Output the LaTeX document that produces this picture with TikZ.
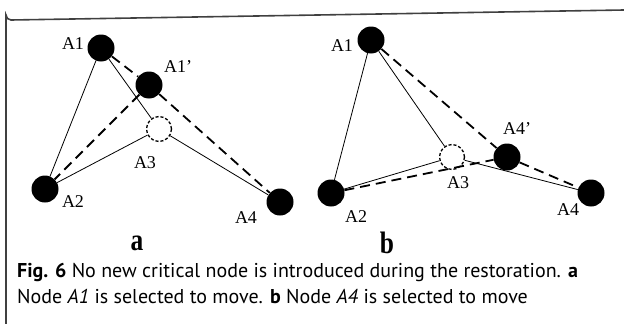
\documentclass[tikz,border=0pt]{standalone}
\usepackage{fontspec}
\setmainfont{Liberation Serif}
\newfontfamily\capfont{PT Sans}
\begin{document}
\begin{tikzpicture}[x=1pt,y=-1pt,
  dot/.style={circle,fill=black,minimum size=27pt,inner sep=0pt},
  ghost/.style={circle,draw=black,densely dashed,line width=1.3pt,minimum size=25pt,inner sep=0pt},
  lbl/.style={inner sep=0pt},
  edge/.style={line width=0.8pt},
  moved/.style={line width=1.8pt,dash pattern=on 10pt off 6pt},
  sub/.style={inner sep=0pt},
  captext/.style={anchor=base west,inner sep=0pt}]
\useasboundingbox (0,0) rectangle (624,324);
% frame
\draw[line width=1.6pt,black!75] (6,324) -- (6,15) arc[start angle=180,end angle=90,radius=5] -- (624,10);

\newcommand\lbltext[1]{{\fontsize{18}{18}\selectfont #1}}
\newcommand\subtext[1]{\scalebox{0.82}[1]{\fontsize{31}{31}\selectfont\bfseries #1}}
\newcommand\captext[1]{\scalebox{1.075}{\capfont\fontsize{18.6}{20}\selectfont #1}}

% panel a
\node[dot] (a1) at (101,48) {};
\node[dot] (a1p) at (149,85) {};
\node[ghost] (a3) at (159,129) {};
\node[dot] (a2) at (45,189) {};
\node[dot] (a4) at (280,202) {};
\draw[edge] (a1) -- (a2);
\draw[edge] (a1) -- (a3);
\draw[edge] (a2) -- (a3);
\draw[edge] (a3) -- (a4);
\draw[moved] (a1) -- (a1p);
\draw[moved] (a1p) -- (a4);
\draw[moved] (a1p) -- (a2);
\node[lbl] (la1) at (73,44) {\lbltext{A1}};
\node[lbl] (la1p) at (178,67) {\lbltext{A1\char39}};
\node[lbl] (la3) at (145,163) {\lbltext{A3}};
\node[lbl] (la2) at (73,202) {\lbltext{A2}};
\node[lbl] (la4) at (246,218) {\lbltext{A4}};
\node[sub] (suba) at (137,243) {\subtext{a}};

% panel b
\node[dot] (b1) at (371,40) {};
\node[ghost] (b3) at (452,157) {};
\node[dot] (b4p) at (507,157) {};
\node[dot] (b2) at (331,193) {};
\node[dot] (b4) at (591,193) {};
\draw[edge] (b1) -- (b2);
\draw[edge] (b1) -- (b3);
\draw[edge] (b2) -- (b3);
\draw[edge] (b3) -- (b4);
\draw[moved] (b1) -- (b4p);
\draw[moved] (b4p) -- (b4);
\draw[moved] (b2) -- (b4p);
\node[lbl] (lb1) at (342,46) {\lbltext{A1}};
\node[lbl] (lb4p) at (517,129) {\lbltext{A4\char39}};
\node[lbl] (lb3) at (458,183) {\lbltext{A3}};
\node[lbl] (lb2) at (356,217) {\lbltext{A2}};
\node[lbl] (lb4) at (568,210) {\lbltext{A4}};
\node[sub] (subb) at (387,243) {\subtext{b}};

% caption
\node[captext] (cap1) at (17,277)
  {\captext{\textbf{Fig. 6} No new critical node is introduced during the restoration. \textbf{a}}};
\node[captext] (cap2) at (17,303)
  {\captext{Node \textit{A1} is selected to move. \textbf{b} Node \textit{A4} is selected to move}};
\end{tikzpicture}
\end{document}
